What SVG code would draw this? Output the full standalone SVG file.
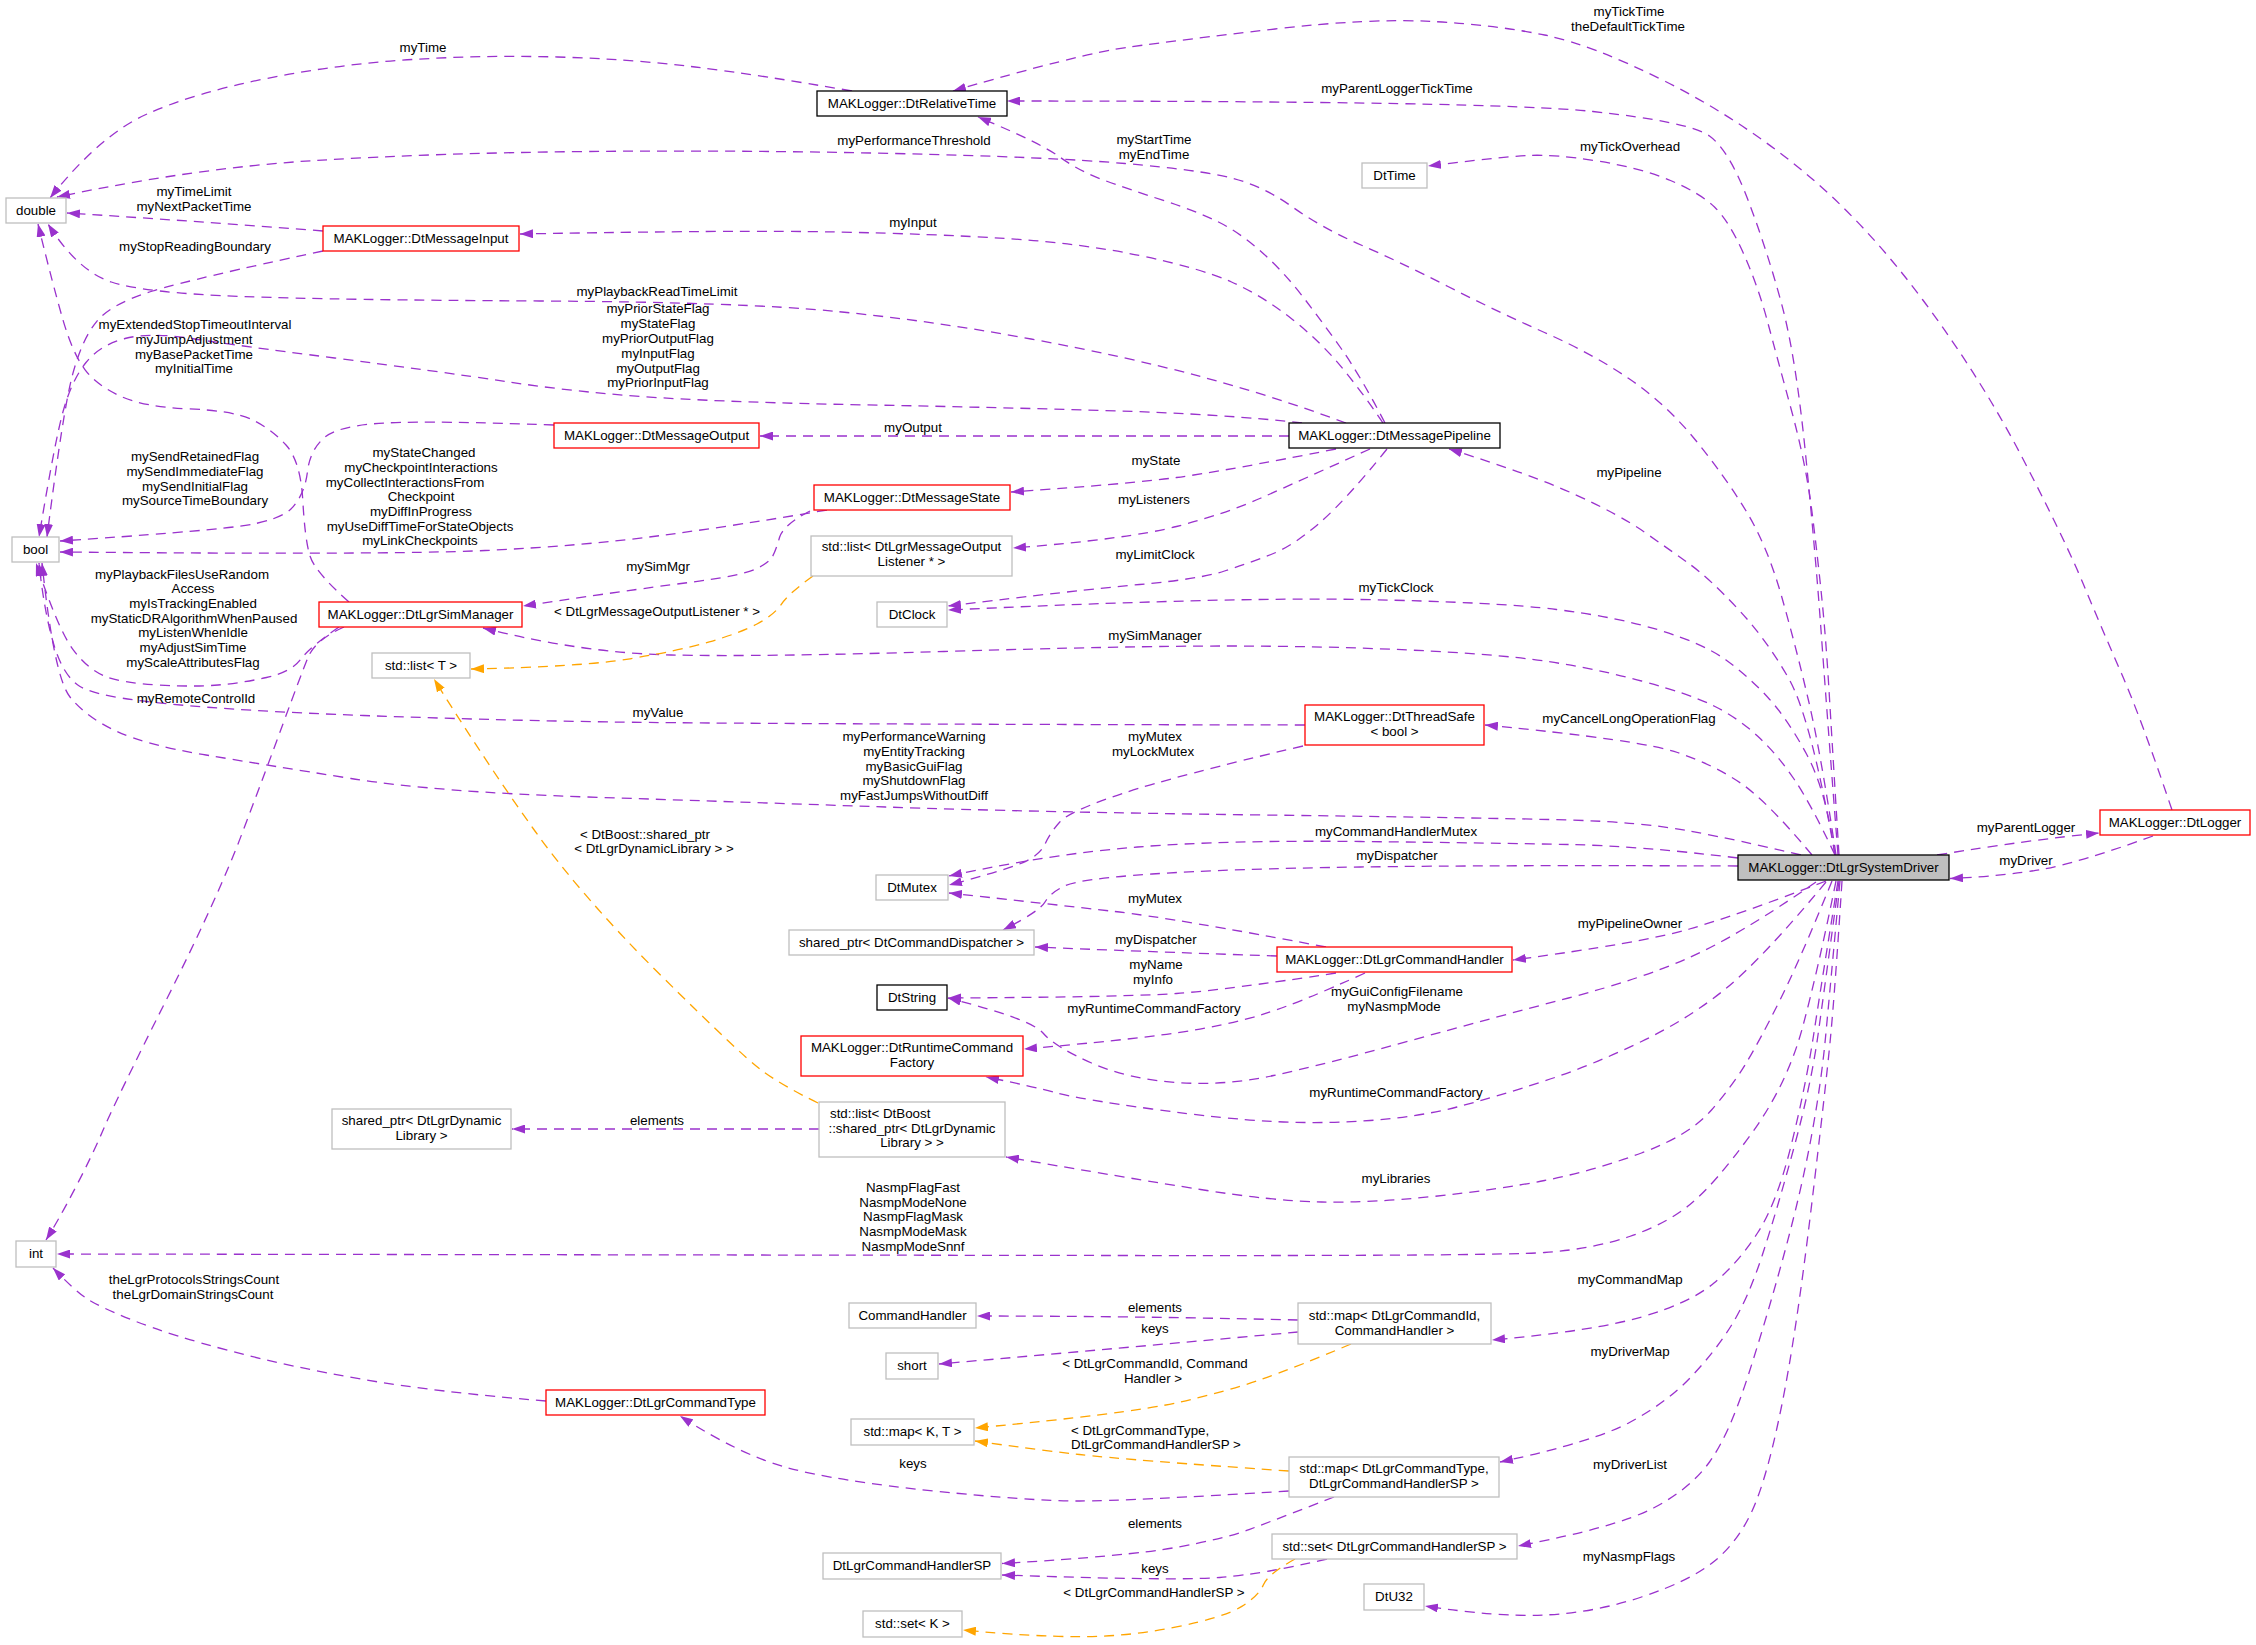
<svg xmlns="http://www.w3.org/2000/svg" width="2256" height="1645" viewBox="0 0 2256 1645">
<style>
text{font-family:"Liberation Sans",Arial,Helvetica,sans-serif;font-size:13.33px;fill:#000;text-anchor:middle}
.g rect{fill:#fff;stroke:#bfbfbf;stroke-width:1.3}
.r rect{fill:#fff;stroke:#ff0000;stroke-width:1.3}
.k rect{fill:#fff;stroke:#000;stroke-width:1.3}
.e{fill:none;stroke:#9a32cd;stroke-width:1.3;stroke-dasharray:10,7;marker-end:url(#ap)}
.o{fill:none;stroke:#ffa500;stroke-width:1.3;stroke-dasharray:10,7;marker-end:url(#ao)}
.s{text-anchor:start}
</style>
<defs>
<marker id="ap" markerUnits="userSpaceOnUse" markerWidth="13" markerHeight="9" viewBox="0 0 13 9" refX="13" refY="4.5" orient="auto"><path d="M0,0 L13,4.5 L0,9 z" fill="#9a32cd"/></marker>
<marker id="ao" markerUnits="userSpaceOnUse" markerWidth="13" markerHeight="9" viewBox="0 0 13 9" refX="13" refY="4.5" orient="auto"><path d="M0,0 L13,4.5 L0,9 z" fill="#ffa500"/></marker>
</defs>
<rect x="0" y="0" width="2256" height="1645" fill="#fff"/>
<g id="connectors">
<path class="e" d="M852,91 Q760,75 695,67 T557.5,57 T412,59.5 T266.5,78.5 T147,114 T50,198"/>
<text x="423" y="52">myTime</text>
<path class="e" d="M1838,855 Q1826,700 1821,630 T1806,458.5 T1781.5,303.5 T1748,200 T1709.5,136 T1593,111.5 T1007,101"/>
<text x="1397" y="93">myParentLoggerTickTime</text>
<path class="e" d="M2172,810 Q2141,718 2121.5,673.5 T2083.5,584.5 T2023,459 T1922.5,299.5 T1801,169.5 T1665.5,81.5 T1544.5,35 T1433,21.5 T1275,29 T1129.5,47 T953,91"/>
<text x="1629" y="16">myTickTime</text><text x="1628" y="31">theDefaultTickTime</text>
<path class="e" d="M1836,855 Q1821,754 1808.5,700.5 T1781.5,596 T1745.5,510 T1695,439.5 T1629.5,379 T1544.5,332.5 T1448,286.5 T1361,245 T1292.5,207 T1231.5,178 T1125,163.5 T895,153.5 T588,151.5 T315,160.5 T57,197"/>
<text x="914" y="145">myPerformanceThreshold</text>
<path class="e" d="M1839,855 Q1832,740 1829,690 T1822,600 T1812,512 T1791.5,410.5 T1767.5,321.5 T1743.5,253.5 T1714.5,207 T1670.5,180.5 T1597.5,161 T1527,155.5 T1428,166"/>
<text x="1630" y="151">myTickOverhead</text>
<path class="e" d="M1835,855 Q1811,718 1789,679 T1738,609 T1689.5,564 T1645,532.5 T1575,494.5 T1449,449"/>
<text x="1629" y="477">myPipeline</text>
<path class="e" d="M1835,855 Q1826,790 1806.5,754 T1767.5,697 T1726,660 T1660.5,630.5 T1556.5,609.5 T1360.5,599.5 T948,610"/>
<text x="1396" y="592">myTickClock</text>
<path class="e" d="M1835,855 Q1811,804 1794,779 T1757.5,736 T1714,706 T1641.5,681 T1544.5,661 T1409,650 T1225,646 T944,651.5 T671,655 T483,628"/>
<text x="1155" y="640">mySimManager</text>
<path class="e" d="M1812,855 Q1767,801 1740.5,783 T1677.5,752.5 T1485,725"/>
<text x="1629" y="723">myCancelLongOperationFlag</text>
<path class="e" d="M1801,855 Q1738,840 1689.5,831 T1568.5,820 T1263.5,815 T885.5,807 T588,797 T351,778.5 T206,755 T116,731 T70,697 T42,563"/>
<text x="914" y="741">myPerformanceWarning</text><text x="914" y="756">myEntityTracking</text><text x="914" y="771">myBasicGuiFlag</text><text x="914" y="785">myShutdownFlag</text><text x="914" y="800">myFastJumpsWithoutDiff</text>
<path class="e" d="M1738,858 Q1641,846 1568.5,844.5 T1360.5,841.5 T1137.5,847 T949,876"/>
<text x="1396" y="836">myCommandHandlerMutex</text>
<path class="e" d="M1738,866 Q1496,865 1360.5,867 T1152,874 T1064.5,886 T1045,902 T1003,930"/>
<text x="1397" y="860">myDispatcher</text>
<path class="e" d="M1826,881 Q1738,915 1689.5,929 T1513,960"/>
<text x="1630" y="928">myPipelineOwner</text>
<path class="e" d="M1816,882 Q1738,936 1689.5,957.5 T1568.5,998 T1409,1041 T1273.5,1075.5 T1176.5,1082.5 T1091.5,1063 T1043,1033 T948,998"/>
<text x="1397" y="996">myGuiConfigFilename</text><text x="1394" y="1011">myNasmpMode</text>
<path class="e" d="M1826,882 Q1763,958 1726.5,988 T1641.5,1041.5 T1544.5,1081 T1457,1107 T1370,1120.5 T1273.5,1121.5 T1152,1109 T1055,1092.5 T986,1077"/>
<text x="1396" y="1097">myRuntimeCommandFactory</text>
<path class="e" d="M1832,881 Q1800,960 1780,1000 T1746.5,1062.5 T1711.5,1110 T1641.5,1153 T1544.5,1180.5 T1433,1196.5 T1321.5,1202 T1200.5,1189.5 T1006,1157"/>
<text x="1396" y="1183">myLibraries</text>
<path class="e" d="M1836,881 Q1818,970 1802.5,1027.5 T1750.5,1135 T1690,1204.5 T1629.5,1236.5 T1544.5,1252.5 T1118,1255.5 T57,1254"/>
<text x="913" y="1192">NasmpFlagFast</text><text x="913" y="1207">NasmpModeNone</text><text x="913" y="1221">NasmpFlagMask</text><text x="913" y="1236">NasmpModeMask</text><text x="913" y="1251">NasmpModeSnnf</text>
<path class="e" d="M1838,881 Q1822,980 1814,1032.5 T1791.5,1144 T1757.5,1233 T1714,1283 T1641.5,1317 T1492,1340"/>
<text x="1630" y="1284">myCommandMap</text>
<path class="e" d="M1839,881 Q1825,985 1818,1035 T1794,1147.5 T1762.5,1254.5 T1731,1326 T1690,1378 T1629.5,1422.5 T1500,1462"/>
<text x="1630" y="1356">myDriverMap</text>
<path class="e" d="M1840,881 Q1830,990 1825.5,1037.5 T1811,1138.5 T1784,1254.5 T1748,1376 T1709.5,1462 T1653.5,1508 T1518,1546"/>
<text x="1630" y="1469">myDriverList</text>
<path class="e" d="M1842,881 Q1835,990 1830.5,1037.5 T1811,1210 T1781.5,1406.5 T1752.5,1510 T1714,1561.5 T1641.5,1597 T1544.5,1615 T1425,1606"/>
<text x="1629" y="1561">myNasmpFlags</text>
<path class="e" d="M1937,855 Q2029,840 2099,833"/>
<text x="2026" y="832">myParentLogger</text>
<path class="e" d="M2153,836 Q2078,863 2041.5,869.5 T1950,878.5"/>
<text x="2026" y="865">myDriver</text>
<path class="e" d="M1385,423 Q1360,375 1340.8,348 T1302.3,296 T1261,251.5 T1217.3,221.4 T1161.8,199.9 T1103.5,180 T1059.8,157 T978,117"/>
<text x="1154" y="144">myStartTime</text><text x="1154" y="159">myEndTime</text>
<path class="e" d="M1383,423 Q1365,396 1343.5,369.5 T1292.5,319.5 T1231.5,282 T1139.5,255.5 T1006.5,238.5 T837,232 T520,234"/>
<text x="913" y="227">myInput</text>
<path class="e" d="M1346,423 Q1273,396 1200.5,376.5 T1031,339 T837,311.5 T539.5,301 T242,296.5 T111.3,282 T48,224"/>
<text x="657" y="296">myPlaybackReadTimeLimit</text>
<path class="e" d="M1302,423 Q1225,414 1103.5,410.5 T861,404.8 T661,397.8 T509,382 T334.5,358 T191.5,338.5 T125,338.5 T86,362.5 T63.5,410 T39,537"/>
<text x="658" y="313">myPriorStateFlag</text><text x="658" y="328">myStateFlag</text><text x="658" y="343">myPriorOutputFlag</text><text x="658" y="358">myInputFlag</text><text x="658" y="373">myOutputFlag</text><text x="658" y="387">myPriorInputFlag</text>
<path class="e" d="M323,251 Q194,278.5 152.8,291 T96.8,321.3 T72.5,374.9 T47,537"/>
<text x="195" y="251">myStopReadingBoundary</text>
<path class="e" d="M323,231 Q194,221 67,213"/>
<text x="194" y="196">myTimeLimit</text><text x="194" y="211">myNextPacketTime</text>
<path class="e" d="M349,602 Q315,572 310,556 T302.8,500.5 T285.8,444.8 T251.9,419.6 T188.9,408.9 T121,396.4 T84.9,369.6 T62.9,319.6 T38,224"/>
<text x="195" y="329">myExtendedStopTimeoutInterval</text><text x="194" y="344">myJumpAdjustment</text><text x="194" y="359">myBasePacketTime</text><text x="194" y="373">myInitialTime</text>
<path class="e" d="M554,425 Q436,420.7 387.5,422.9 T324.5,437.5 T307.5,471.4 T293,506.9 T237.5,526.5 T60,541"/>
<text x="195" y="461">mySendRetainedFlag</text><text x="195" y="476">mySendImmediateFlag</text><text x="195" y="491">mySendInitialFlag</text><text x="195" y="505">mySourceTimeBoundary</text>
<path class="e" d="M827,510 Q740,525 661,535.5 T485,550.5 T60,552"/>
<text x="424" y="457">myStateChanged</text><text x="421" y="472">myCheckpointInteractions</text><text x="405" y="487">myCollectInteractionsFrom</text><text x="421" y="501">Checkpoint</text><text x="421" y="516">myDiffInProgress</text><text x="420" y="531">myUseDiffTimeForStateObjects</text><text x="420" y="545">myLinkCheckpoints</text>
<path class="e" d="M810,511 Q783,525 779.5,537.5 T772.5,556.5 T754.5,569.5 T685,583 T523,606"/>
<text x="658" y="571">mySimMgr</text>
<path class="o" d="M813,576 Q788.5,593.6 781.3,604.3 T757,624 T709.3,641.9 T630.1,658.8 T471,669"/>
<text x="657" y="616">&lt; DtLgrMessageOutputListener * &gt;</text>
<path class="o" d="M818,1103 Q781,1085 760.5,1069.5 T661,975.5 T533.5,829 T434,679"/>
<text x="645" y="839">&lt; DtBoost::shared_ptr</text><text x="654" y="853">&lt; DtLgrDynamicLibrary &gt; &gt;</text>
<path class="e" d="M1305,725 Q740,724 612.5,722 T363.5,715.5 T169.5,704 T80,686.5 T53.5,643.5 T39,563"/>
<text x="658" y="717">myValue</text>
<path class="e" d="M339,627 Q310,647 300.5,659.5 T266.5,677.5 T218,685 T157.5,685 T104,675.8 T72.5,648.8 T36,563"/>
<text x="182" y="579">myPlaybackFilesUseRandom</text><text x="193" y="593">Access</text><text x="193" y="608">myIsTrackingEnabled</text><text x="194" y="623">myStaticDRAlgorithmWhenPaused</text><text x="193" y="637">myListenWhenIdle</text><text x="193" y="652">myAdjustSimTime</text><text x="193" y="667">myScaleAttributesFlag</text>
<path class="e" d="M344,627 Q315,640 307.8,657.9 T283.6,722.2 T242.3,832.8 T167,998.5 T104,1128 T75,1188.5 T46,1240"/>
<text x="196" y="703">myRemoteControlId</text>
<path class="e" d="M1289,436 L760,436"/>
<text x="913" y="432">myOutput</text>
<path class="e" d="M1336,449 Q1225,471 1176.5,477.5 T1011,492"/>
<text x="1156" y="465">myState</text>
<path class="e" d="M1370,449 Q1297,482 1261,498 T1176.5,526.5 T1013,548"/>
<text x="1154" y="504">myListeners</text>
<path class="e" d="M1387,449 Q1346,500 1319.5,523 T1271,554.5 T1224.5,571 T1139.5,584.5 T948,606"/>
<text x="1155" y="559">myLimitClock</text>
<path class="e" d="M1303,746 Q1176,775.7 1122.8,793.4 T1059.8,822 T1045.3,843.5 T1025.8,861.3 T949,885"/>
<text x="1155" y="741">myMutex</text><text x="1153" y="756">myLockMutex</text>
<path class="e" d="M1326,947 Q1176,918.5 1113,911.3 T949,893"/>
<text x="1155" y="903">myMutex</text>
<path class="e" d="M1277,956 Q1128,951 1035,947"/>
<text x="1156" y="944">myDispatcher</text>
<path class="e" d="M1336,973 Q1225,990 1176.5,993.5 T948,998"/>
<text x="1156" y="969">myName</text><text x="1153" y="984">myInfo</text>
<path class="e" d="M1365,973 Q1297,1004 1261,1014.9 T1176.5,1032.9 T1024,1049"/>
<text x="1154" y="1013">myRuntimeCommandFactory</text>
<path class="e" d="M819,1129 L512,1129"/>
<text x="657" y="1125">elements</text>
<path class="e" d="M1298,1320 Q1128,1316 977,1316"/>
<text x="1155" y="1312">elements</text>
<path class="e" d="M1298,1332 Q1128,1347.5 939,1364"/>
<text x="1155" y="1333">keys</text>
<path class="o" d="M1351,1344 Q1297,1367 1261,1379.5 T1176.5,1402.8 T975,1428"/>
<text x="1155" y="1368">&lt; DtLgrCommandId, Command</text><text x="1153" y="1383">Handler &gt;</text>
<path class="o" d="M1289,1471 Q1128,1460 1079.5,1454.5 T975,1441"/>
<text class="s" x="1071" y="1435">&lt; DtLgrCommandType,</text><text class="s" x="1071" y="1449">DtLgrCommandHandlerSP &gt;</text>
<path class="e" d="M1289,1491 Q1128,1501 1079.5,1501 T934,1491 T788.5,1468 T680,1416"/>
<text x="913" y="1468">keys</text>
<path class="e" d="M1334,1497 Q1273,1520.7 1249,1529.6 T1176.5,1547.3 T1002,1563.5"/>
<text x="1155" y="1528">elements</text>
<path class="e" d="M1327,1559 Q1263.5,1574 1219.8,1577.5 T1002,1575"/>
<text x="1155" y="1573">keys</text>
<path class="o" d="M1295,1559 Q1268,1574 1263.3,1584.9 T1241.8,1606.4 T1176.5,1626.9 T1079.5,1636.7 T963,1630"/>
<text x="1154" y="1597">&lt; DtLgrCommandHandlerSP &gt;</text>
<path class="e" d="M546,1401 Q436,1392 363.5,1379.5 T230.5,1351 T133.5,1320.5 T84.9,1297.3 T53,1268"/>
<text x="194" y="1284">theLgrProtocolsStringsCount</text><text x="193" y="1299">theLgrDomainStringsCount</text>
</g>
<g id="n_double" class="g"><rect x="6" y="198" width="60" height="25"/><text x="36" y="215">double</text></g>
<g id="n_bool" class="g"><rect x="12" y="537" width="47" height="25"/><text x="35.5" y="554">bool</text></g>
<g id="n_int" class="g"><rect x="16" y="1241" width="40" height="26"/><text x="36" y="1258">int</text></g>
<g id="n_msginput" class="r"><rect x="323" y="226" width="196" height="25"/><text x="421" y="243">MAKLogger::DtMessageInput</text></g>
<g id="n_msgoutput" class="r"><rect x="554" y="423" width="205" height="25"/><text x="656.5" y="440">MAKLogger::DtMessageOutput</text></g>
<g id="n_reltime" class="k"><rect x="817" y="91" width="190" height="25"/><text x="912" y="108">MAKLogger::DtRelativeTime</text></g>
<g id="n_dttime" class="g"><rect x="1362" y="163" width="65" height="25"/><text x="1394.5" y="180">DtTime</text></g>
<g id="n_pipeline" class="k"><rect x="1289" y="423" width="211" height="25"/><text x="1394.5" y="440">MAKLogger::DtMessagePipeline</text></g>
<g id="n_msgstate" class="r"><rect x="814" y="485" width="196" height="25"/><text x="912" y="502">MAKLogger::DtMessageState</text></g>
<g id="n_listenerlist" class="g"><rect x="811" y="536" width="201" height="40"/><text x="911.5" y="551">std::list&lt; DtLgrMessageOutput</text><text x="911.5" y="566">Listener * &gt;</text></g>
<g id="n_simmanager" class="r"><rect x="319" y="602" width="203" height="25"/><text x="420.5" y="619">MAKLogger::DtLgrSimManager</text></g>
<g id="n_listT" class="g"><rect x="372" y="653" width="98" height="25"/><text x="421" y="670">std::list&lt; T &gt;</text></g>
<g id="n_dtclock" class="g"><rect x="877" y="602" width="70" height="25"/><text x="912" y="619">DtClock</text></g>
<g id="n_threadsafe" class="r"><rect x="1305" y="705" width="179" height="40"/><text x="1394.5" y="721">MAKLogger::DtThreadSafe</text><text x="1394.5" y="736">&lt; bool &gt;</text></g>
<g id="n_dtmutex" class="g"><rect x="876" y="875" width="72" height="25"/><text x="912" y="892">DtMutex</text></g>
<g id="n_dispatcher" class="g"><rect x="789" y="930" width="245" height="25"/><text x="911.5" y="947">shared_ptr&lt; DtCommandDispatcher &gt;</text></g>
<g id="n_cmdhandler" class="r"><rect x="1277" y="947" width="235" height="25"/><text x="1394.5" y="964">MAKLogger::DtLgrCommandHandler</text></g>
<g id="n_dtstring" class="k"><rect x="877" y="985" width="70" height="25"/><text x="912" y="1002">DtString</text></g>
<g id="n_runtimefactory" class="r"><rect x="801" y="1036" width="222" height="40"/><text x="912" y="1052">MAKLogger::DtRuntimeCommand</text><text x="912" y="1067">Factory</text></g>
<g id="n_systemdriver"><rect x="1738" y="855" width="211" height="25" fill="#bfbfbf" stroke="#000" stroke-width="1.3"/><text x="1843.5" y="872">MAKLogger::DtLgrSystemDriver</text></g>
<g id="n_dtlogger" class="r"><rect x="2100" y="810" width="150" height="25"/><text x="2175" y="827">MAKLogger::DtLogger</text></g>
<g id="n_dynlibptr" class="g"><rect x="332" y="1109" width="179" height="40"/><text x="421.5" y="1125">shared_ptr&lt; DtLgrDynamic</text><text x="421.5" y="1140">Library &gt;</text></g>
<g id="n_cmdtype" class="r"><rect x="546" y="1390" width="219" height="25"/><text x="655.5" y="1407">MAKLogger::DtLgrCommandType</text></g>
<g id="n_liblist" class="g"><rect x="819" y="1102" width="186" height="55"/><text class="s" x="830" y="1118">std::list&lt; DtBoost</text><text x="912" y="1133">::shared_ptr&lt; DtLgrDynamic</text><text x="912" y="1147">Library &gt; &gt;</text></g>
<g id="n_commandhandler" class="g"><rect x="849" y="1303" width="127" height="25"/><text x="912.5" y="1320">CommandHandler</text></g>
<g id="n_cmdmap" class="g"><rect x="1298" y="1303" width="193" height="41"/><text x="1394.5" y="1320">std::map&lt; DtLgrCommandId,</text><text x="1394.5" y="1335">CommandHandler &gt;</text></g>
<g id="n_short" class="g"><rect x="886" y="1353" width="52" height="26"/><text x="912" y="1370">short</text></g>
<g id="n_mapKT" class="g"><rect x="851" y="1419" width="123" height="26"/><text x="912.5" y="1436">std::map&lt; K, T &gt;</text></g>
<g id="n_drivermap" class="g"><rect x="1289" y="1457" width="210" height="40"/><text x="1394" y="1473">std::map&lt; DtLgrCommandType,</text><text x="1394" y="1488">DtLgrCommandHandlerSP &gt;</text></g>
<g id="n_driverset" class="g"><rect x="1272" y="1534" width="245" height="25"/><text x="1394.5" y="1551">std::set&lt; DtLgrCommandHandlerSP &gt;</text></g>
<g id="n_handlersp" class="g"><rect x="823" y="1553" width="178" height="26"/><text x="912" y="1570">DtLgrCommandHandlerSP</text></g>
<g id="n_dtu32" class="g"><rect x="1364" y="1584" width="60" height="26"/><text x="1394" y="1601">DtU32</text></g>
<g id="n_setK" class="g"><rect x="863" y="1611" width="99" height="26"/><text x="912.5" y="1628">std::set&lt; K &gt;</text></g>
</svg>
